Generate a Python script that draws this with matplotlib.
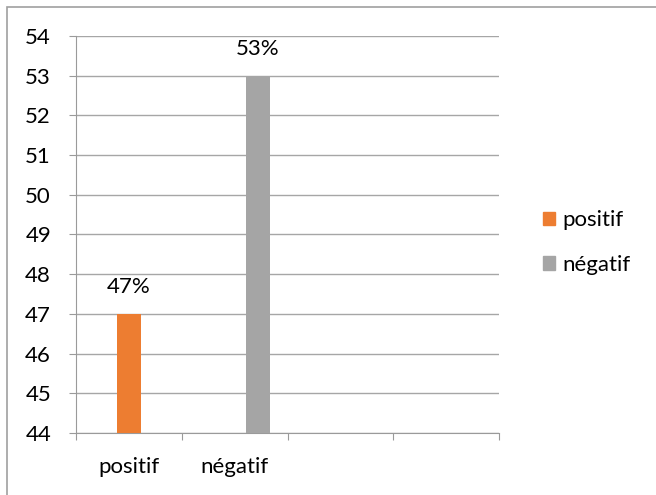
import matplotlib.pyplot as plt
from matplotlib.patches import Rectangle

categories = ["positif", "négatif", "", ""]
series_names = ["positif", "négatif"]
series_values = [[47, None, None, None], [None, 53, None, None]]
series_labels = ["47%", "53%"]
colors = ["#ED7D31", "#A5A5A5"]
offsets = [0.0, 0.22]

plt.rcParams['font.family'] = ['Lato', 'DejaVu Sans']

fig = plt.figure(figsize=(6.56, 4.95), dpi=100)
ax = fig.add_axes([0.1159, 0.1253, 0.6448, 0.802])

# cadre du graphique (coupé à droite et en bas)
fig.add_artist(Rectangle((7 / 656, -0.1), 1.2, 1 - 7 / 495 + 0.1,
                         transform=fig.transFigure, fill=False,
                         edgecolor='#a0a0a0', linewidth=1.2))

handles = []
for k, name in enumerate(series_names):
    for i, v in enumerate(series_values[k]):
        if v is None:
            continue
        ax.bar(i + offsets[k], v, width=0.226, bottom=0,
               color=colors[k], zorder=3)
        ax.annotate(series_labels[k], (i + offsets[k], v),
                    xytext=(0, 27), textcoords='offset pixels',
                    ha='center', va='center', fontsize=16)
    handles.append(plt.Rectangle((0, 0), 1, 1, color=colors[k]))

ax.set_ylim(44, 54)
ax.set_xlim(-0.5, len(categories) - 0.5)
ax.set_yticks(range(44, 55))
ax.tick_params(axis='y', length=5, color='#9a9a9a', labelsize=16, pad=13)

ax.set_xticks([i - 0.5 for i in range(len(categories) + 1)])
ax.set_xticklabels([])
ax.set_xticks(range(len(categories)), minor=True)
ax.set_xticklabels(categories, minor=True, fontsize=16)
ax.tick_params(axis='x', which='major', length=5, color='#9a9a9a')
ax.tick_params(axis='x', which='minor', length=0, pad=17)

ax.grid(axis='y', color='#a6a6a6', linewidth=1, zorder=0)
for s in ['top', 'right']:
    ax.spines[s].set_visible(False)
for s in ['left', 'bottom']:
    ax.spines[s].set_color('#9a9a9a')

fig.legend(handles, series_names, loc='center left',
           bbox_to_anchor=(0.797, 0.51), frameon=False, fontsize=16,
           handlelength=0.55, handleheight=0.55, handletextpad=0.35,
           labelspacing=1.1)

fig.savefig('out.png', dpi=100)
